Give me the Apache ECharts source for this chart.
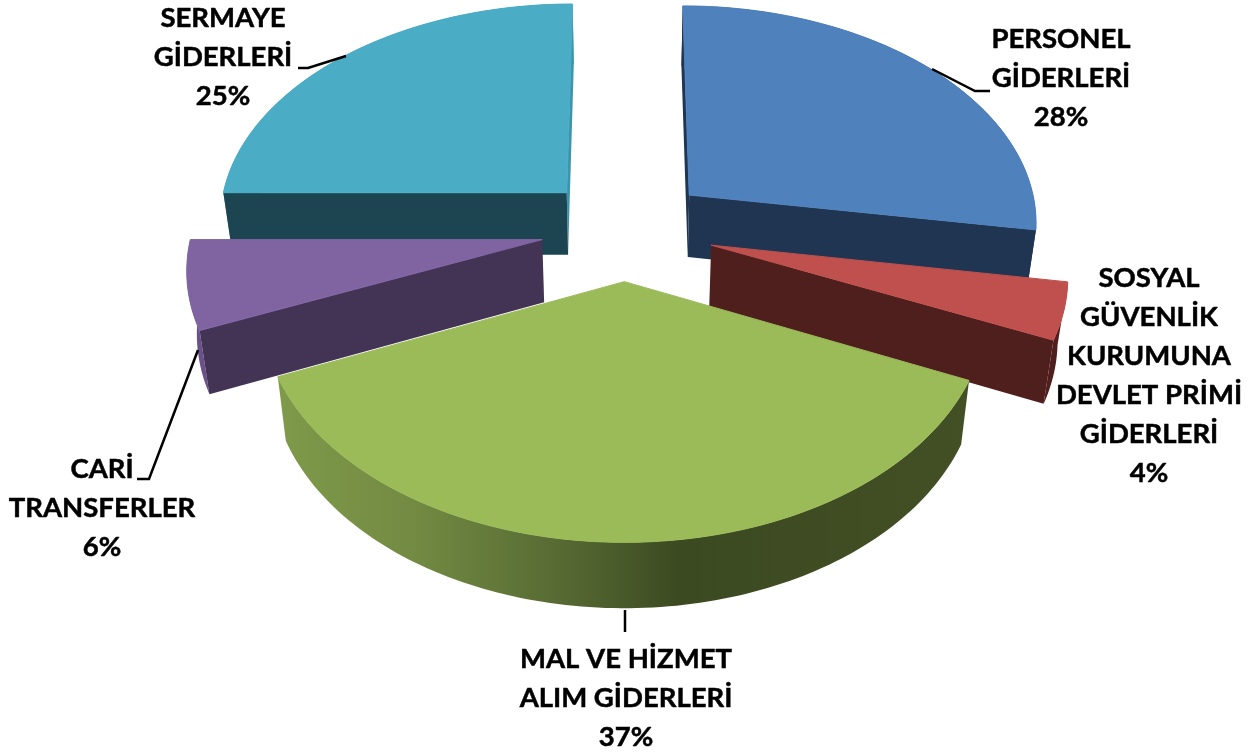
<!DOCTYPE html>
<html>
<head>
<meta charset="utf-8">
<script src="https://cdn.jsdelivr.net/npm/echarts@6/dist/echarts.min.js"></script>
<style>
  html, body { margin: 0; padding: 0; background: #fff; }
  #chart { width: 1253px; height: 756px; }
</style>
</head>
<body>
<div id="chart"></div>
<script>
// chart data
var categories = ['PERSONEL\nGİDERLERİ', 'SOSYAL\nGÜVENLİK\nKURUMUNA\nDEVLET PRİMİ\nGİDERLERİ', 'MAL VE HİZMET\nALIM GİDERLERİ', 'CARİ\nTRANSFERLER', 'SERMAYE\nGİDERLERİ'];
var shares = [27.6, 4.1, 36.85, 6.45, 25];

// look of each slice, same order as categories
var topColors = ['#4f81bd', '#c0504d', '#9bbb59', '#8064a2', '#4bacc6'];
var cutColors = ['#1f3552', '#4f1f1e', '#3f4c22', '#433355', '#1d4451'];
var rimColors = ['#1f3552', '#4f1f1e', null, '#6a5189', '#3d95ab'];
var explode = [0.245, 0.255, 0.235, 0.24, 0.24];
var paintOrder = [3, 4, 5, 2, 1]; // back slices first

// label box centre and leader line of each slice
var labelPos = [[1061, 78], [1149, 376], [626, 698], [102, 508], [223, 57]];
var leaders = [
  [[932, 69], [975, 91], [990, 91]],
  [],
  [[625, 610], [625, 632]],
  [[198, 350], [149, 479], [137, 479]],
  [[346, 56], [308, 68], [298, 68]]
];

// perspective of the pie plane, fitted by eye
var cx = 625, cy = 229, scaleX = 350, scaleY = 218, persp = 0.114;
var depth = 62, bottomShrink = 0.977;

function project(u, v) {
  var w = 1 - persp * v;
  return [cx + scaleX * u / w, cy + scaleY * v / w];
}
function drop(p) {
  return [cx + (p[0] - cx) * bottomShrink, p[1] + depth + (p[1] - 190) * 0.011];
}

var total = shares.reduce(function (a, b) { return a + b; }, 0);

function polygon(points, fill, z2, stroke) {
  return {
    type: 'polygon',
    z2: z2,
    shape: { points: points },
    style: { fill: fill, stroke: stroke ? fill : null, lineWidth: 1 }
  };
}

function renderSlice(params, api) {
  var i = params.dataIndex;
  var before = 0;
  for (var k = 0; k < i; k++) before += shares[k];
  var start = before / total * Math.PI * 2;
  var end = (before + api.value(0)) / total * Math.PI * 2;
  var mid = (start + end) / 2;
  var eu = Math.sin(mid) * explode[i], ev = -Math.cos(mid) * explode[i];
  var z = paintOrder[i] * 10;

  var arc = [];
  var steps = Math.max(4, Math.round((end - start) / 0.02));
  for (var s = 0; s <= steps; s++) {
    var a = start + (end - start) * s / steps;
    arc.push(project(eu + Math.sin(a), ev - Math.cos(a)));
  }
  var apex = project(eu, ev);
  var arcBottom = arc.map(drop).reverse();
  var children = [];

  // side walls first, the top face covers what faces away
  var rimFill = rimColors[i] || new echarts.graphic.LinearGradient(0, 0, 1, 0, [
    { offset: 0, color: '#7f9a4a' },
    { offset: 0.2, color: '#728a42' },
    { offset: 0.42, color: '#556832' },
    { offset: 0.58, color: '#3c4a21' },
    { offset: 1, color: '#434f25' }
  ]);
  children.push(polygon(arc.concat(arcBottom), rimFill, z));
  // radial cut faces, only the ones turned to the viewer
  if (Math.sin(start) < 0.01) {
    children.push(polygon([apex, arc[0], drop(arc[0]), drop(apex)], cutColors[i], z + 1));
  }
  if (Math.sin(end) > -0.01) {
    var backFace = Math.sin(end) < 0.01;
    children.push(polygon([apex, arc[steps], drop(arc[steps]), drop(apex)], backFace ? rimColors[i] : cutColors[i], backFace ? z : z + 1));
  }
  children.push(polygon([apex].concat(arc), topColors[i], z + 2, true));

  // leader and label
  if (leaders[i].length) {
    children.push({
      type: 'polyline',
      z2: 100,
      shape: { points: leaders[i] },
      style: { stroke: '#000', lineWidth: 2.5, fill: null }
    });
  }
  children.push({
    type: 'text',
    z2: 101,
    style: {
      x: labelPos[i][0],
      y: labelPos[i][1],
      text: categories[i] + '\n' + Math.round(api.value(0)) + '%',
      fill: '#000',
      stroke: '#000',
      lineWidth: 0.5,
      font: 'bold 27.5px Lato',
      lineHeight: 39,
      align: 'center',
      verticalAlign: 'middle'
    }
  });
  return { type: 'group', children: children };
}

var chart = echarts.init(document.getElementById('chart'));
chart.setOption({
  animation: false,
  backgroundColor: '#fff',
  series: [{
    type: 'custom',
    coordinateSystem: 'none',
    silent: true,
    renderItem: renderSlice,
    data: shares.map(function (v) { return [v]; })
  }]
});
</script>
</body>
</html>
